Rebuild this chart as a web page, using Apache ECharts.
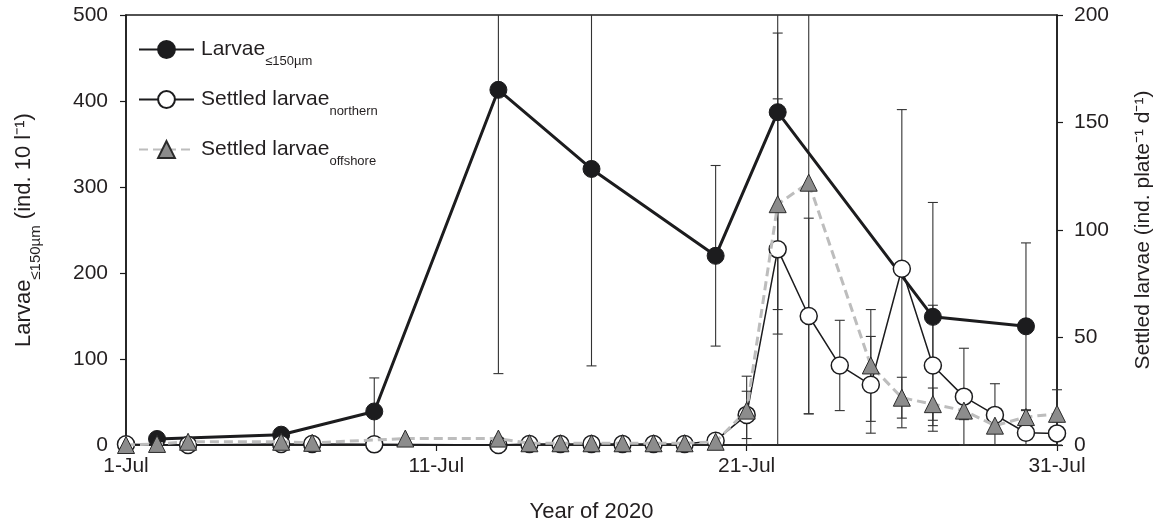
<!DOCTYPE html>
<html>
<head>
<meta charset="utf-8">
<title>Larvae and settled larvae, July 2020</title>
<script src="https://cdn.jsdelivr.net/npm/echarts@6/dist/echarts.min.js"></script>
<style>
  html, body { margin: 0; padding: 0; background: #ffffff; }
  #chart { width: 1166px; height: 528px; }
</style>
</head>
<body>
<div id="chart"></div>
<script>
// Sampling days in July 2020 (day of month), means and standard errors.
const larvaeDays = [2, 6, 9, 13, 16, 20, 22, 27, 30];
const larvaeMean = [7, 12, 39, 413, 321, 220, 387, 149, 138];
const larvaeErr  = [0, 0, 39, 330, 229, 105, 258, 133, 97];

const northernDays = [1, 3, 6, 7, 9, 13, 14, 15, 16, 17, 18, 19, 20, 21, 22, 23, 24, 25, 26, 27, 28, 29, 30, 31];
const northernMean = [0.3, 0, 0.5, 0.5, 0.3, 0, 0.5, 0.5, 0.5, 0.5, 0.5, 0.5, 2, 14, 91, 60, 37, 28, 82, 37, 22.5, 14, 5.7, 5.4];
const northernErr  = [0, 0, 0, 0, 0, 0, 0, 0, 0, 0, 0, 0, 0, 11, 100.6, 45.5, 21, 22.5, 74, 28, 22.5, 14.5, 5.7, 5.4];

const offshoreDays = [1, 2, 3, 6, 7, 10, 13, 14, 15, 16, 17, 18, 19, 20, 21, 22, 23, 25, 26, 27, 28, 29, 30, 31];
const offshoreMean = [0, 0.5, 1.5, 1.5, 1, 3, 3, 0.8, 0.8, 0.8, 0.8, 0.8, 0.8, 1.5, 16, 112, 122, 37, 22, 19, 16, 9, 13, 14.5];
const offshoreErr  = [0, 0, 0, 0, 0, 0, 0, 0, 0, 0, 0, 0, 0, 0, 16, 49, 107.5, 26, 9.5, 7.5, 4.2, 3, 3, 11.2];

// Axis settings and tick labels.
const xTickLabels = ['1-Jul', '11-Jul', '21-Jul', '31-Jul'];
const leftMax = 500, leftStep = 100;
const rightMax = 200, rightStep = 50;

const FONT = '"Liberation Sans", Arial, Helvetica, sans-serif';
const INK = '#231f20';

// x position is days since 1 July
function toPoints(days, values) {
  return days.map((d, i) => [d - 1, values[i]]);
}
function toErrRows(days, values, errs) {
  return days.map((d, i) => [d - 1, values[i], errs[i]]);
}

// Vertical error bar with caps; clipped to the axis range (no cap where clipped).
function errorBarRenderer(axisMax) {
  return function (params, api) {
    const x = api.value(0), m = api.value(1), e = api.value(2);
    if (!e) return null;
    const lo = m - e, hi = m + e;
    const pLo = api.coord([x, Math.max(lo, 0)]);
    const pHi = api.coord([x, Math.min(hi, axisMax)]);
    const half = 5;
    const style = { stroke: '#333333', lineWidth: 1.1 };
    const children = [{
      type: 'line',
      shape: { x1: pLo[0], y1: pLo[1], x2: pHi[0], y2: pHi[1] },
      style: style
    }];
    if (hi <= axisMax) {
      children.push({ type: 'line', shape: { x1: pHi[0] - half, y1: pHi[1], x2: pHi[0] + half, y2: pHi[1] }, style: style });
    }
    if (lo >= 0) {
      children.push({ type: 'line', shape: { x1: pLo[0] - half, y1: pLo[1], x2: pLo[0] + half, y2: pLo[1] }, style: style });
    }
    return { type: 'group', children: children };
  };
}

// Rich text: main run plus a lowered subscript run.
const legendRich = {
  a: { fontSize: 21, lineHeight: 37, fontFamily: FONT, color: INK },
  s: { fontSize: 13, lineHeight: 11, verticalAlign: 'bottom', fontFamily: FONT, color: INK }
};
const titleRich = {
  a: { fontSize: 22, lineHeight: 38, fontFamily: FONT, color: INK },
  s: { fontSize: 15, lineHeight: 12, verticalAlign: 'bottom', fontFamily: FONT, color: INK }
};

const legendLabels = {
  larvae: '{a|Larvae}{s|≤150µm}',
  northern: '{a|Settled larvae}{s|northern}',
  offshore: '{a|Settled larvae}{s|offshore}'
};

const chart = echarts.init(document.getElementById('chart'), null, { renderer: 'canvas' });

const axisLineStyle = { color: '#1a1a1a', width: 1.5 };
const tickStyle = { show: true, inside: false, length: 6, lineStyle: { color: '#1a1a1a', width: 1.2 } };

chart.setOption({
  animation: false,
  backgroundColor: '#ffffff',
  grid: {
    left: 126, right: 109, top: 15, bottom: 83,
    show: true, borderColor: '#1a1a1a', borderWidth: 1.5, backgroundColor: 'transparent'
  },
  legend: {
    data: ['larvae', 'northern', 'offshore'],
    orient: 'vertical',
    left: 133,
    top: 34,
    itemWidth: 55,
    itemHeight: 21,
    itemGap: 21,
    selectedMode: false,
    formatter: name => legendLabels[name],
    textStyle: { rich: legendRich, padding: [0, 0, 0, 2] }
  },
  xAxis: {
    type: 'value',
    min: 0, max: 30, interval: 10,
    name: 'Year of 2020',
    nameLocation: 'middle',
    nameGap: 56,
    nameTextStyle: { fontSize: 22, fontFamily: FONT, color: INK },
    axisLine: { show: true, lineStyle: axisLineStyle },
    axisTick: tickStyle,
    axisLabel: {
      fontSize: 21, fontFamily: FONT, color: INK, margin: 11,
      formatter: v => xTickLabels[Math.round(v / 10)]
    },
    splitLine: { show: false }
  },
  yAxis: [{
    type: 'value',
    position: 'left',
    min: 0, max: leftMax, interval: leftStep,
    name: '{a|Larvae}{s|≤150µm}{a| (ind. 10 l⁻¹)}',
    nameLocation: 'middle',
    nameRotate: 90,
    nameGap: 83,
    nameTextStyle: { rich: titleRich },
    axisLine: { show: true, lineStyle: axisLineStyle },
    axisTick: tickStyle,
    axisLabel: { fontSize: 21, fontFamily: FONT, color: INK, margin: 18 },
    splitLine: { show: false }
  }, {
    type: 'value',
    position: 'right',
    min: 0, max: rightMax, interval: rightStep,
    name: 'Settled larvae (ind. plate⁻¹ d⁻¹)',
    nameLocation: 'middle',
    nameRotate: 90,
    nameGap: 76,
    nameTextStyle: { fontSize: 21, fontFamily: FONT, color: INK },
    axisLine: { show: true, lineStyle: axisLineStyle },
    axisTick: tickStyle,
    axisLabel: { fontSize: 21, fontFamily: FONT, color: INK, margin: 17 },
    splitLine: { show: false }
  }],
  series: [
    {
      type: 'custom', yAxisIndex: 0, z: 1, silent: true, clip: false,
      renderItem: errorBarRenderer(leftMax),
      encode: { x: 0, y: 1 },
      data: toErrRows(larvaeDays, larvaeMean, larvaeErr)
    },
    {
      type: 'custom', yAxisIndex: 1, z: 1, silent: true, clip: false,
      renderItem: errorBarRenderer(rightMax),
      encode: { x: 0, y: 1 },
      data: toErrRows(northernDays, northernMean, northernErr)
    },
    {
      type: 'custom', yAxisIndex: 1, z: 1, silent: true, clip: false,
      renderItem: errorBarRenderer(rightMax),
      encode: { x: 0, y: 1 },
      data: toErrRows(offshoreDays, offshoreMean, offshoreErr)
    },
    {
      name: 'larvae',
      type: 'line', yAxisIndex: 0, z: 3,
      data: toPoints(larvaeDays, larvaeMean),
      symbol: 'circle', symbolSize: 17,
      lineStyle: { color: '#1c1c1e', width: 3 },
      itemStyle: { color: '#1c1c1e', borderColor: '#1c1c1e', borderWidth: 1 }
    },
    {
      name: 'northern',
      type: 'line', yAxisIndex: 1, z: 4,
      data: toPoints(northernDays, northernMean),
      symbol: 'circle', symbolSize: 17,
      lineStyle: { color: '#1c1c1e', width: 1.5 },
      itemStyle: { color: '#ffffff', borderColor: '#1c1c1e', borderWidth: 1.5 }
    },
    {
      name: 'offshore',
      type: 'line', yAxisIndex: 1, z: 5,
      data: toPoints(offshoreDays, offshoreMean),
      symbol: 'triangle', symbolSize: 17,
      lineStyle: { color: '#bdbdbd', width: 3, type: [9, 5] },
      itemStyle: { color: '#8c8c8c', borderColor: '#2a2a2a', borderWidth: 1 }
    }
  ]
});
</script>
</body>
</html>
